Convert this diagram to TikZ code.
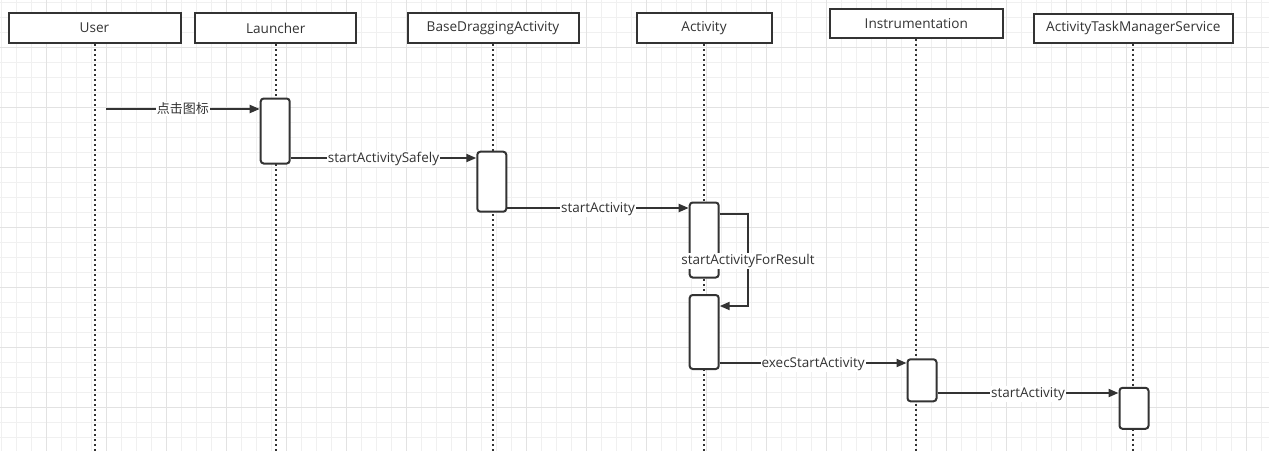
\documentclass[tikz,border=0pt]{standalone}
\usepackage{fontspec}
\setmainfont{Open Sans}
\newfontfamily\cjkfont{Noto Sans CJK SC}
\usetikzlibrary{arrows.meta}

\definecolor{inkgray}{HTML}{333333}
\definecolor{gridminor}{HTML}{F0F0F0}
\definecolor{gridmajor}{HTML}{E2E2E2}

\tikzset{
	header/.style={draw=inkgray, line width=2pt, fill=white, minimum height=30pt,
		inner sep=0pt, text=inkgray, font=\fontsize{13.6}{15}\selectfont},
	actbox/.style={draw=inkgray, line width=2pt, fill=white, rounded corners=3pt,
		minimum width=29pt, inner sep=0pt},
	lifeline/.style={draw=inkgray, line width=2pt, dash pattern=on 2pt off 3pt},
	message/.style={draw=inkgray, line width=2pt, -{Triangle[length=10pt,width=8pt]}},
	msglabel/.style={fill=white, inner sep=1pt, text=inkgray, font=\fontsize{13.5}{15}\selectfont},
}

\begin{document}
\begin{tikzpicture}[x=1pt,y=-1pt]
				\useasboundingbox (0,0) rectangle (1269,451);

				% grid
				\foreach \k in {0,...,84}
					\draw[gridminor, line width=1pt] (1.5+15*\k,0) -- ++(0,451);
				\foreach \k in {0,...,29}
					\draw[gridminor, line width=1pt] (0,2+15*\k) -- ++(1269,0);
				\foreach \k in {0,...,20}
					\draw[gridmajor, line width=1pt] (46.5+60*\k,0) -- ++(0,451);
				\foreach \k in {0,...,6}
					\draw[gridmajor, line width=1pt] (0,47+60*\k) -- ++(1269,0);

				% heads
				\node[header, minimum width=172pt] (user) at (94.5,28) {User};
				\node[header, minimum width=161pt] (launcher) at (275.7,28) {Launcher};
				\node[header, minimum width=171pt] (bda) at (493,28) {BaseDraggingActivity};
				\node[header, minimum width=135pt] (activity) at (704,28) {Activity};
				\node[header, minimum width=173pt, minimum height=29pt] (instr) at (916.3,23.9) {Instrumentation};
				\node[header, minimum width=199pt, minimum height=29pt] (atms) at (1133.3,28.2) {ActivityTaskManagerService};

				\coordinate (bottom) at (0,451);
				\foreach \h in {user,launcher,bda,activity,instr,atms}
					\draw[lifeline] (\h.south) -- (\h.south |- bottom);

				% activations
				\node[actbox, minimum height=65pt] (la) at (275.2,131) {};
				\node[actbox, minimum height=60pt] (ba) at (491.8,181.7) {};
				\node[actbox, minimum height=75pt] (aa1) at (704.2,240) {};
				\node[actbox, minimum height=74pt] (aa2) at (704.2,332) {};
				\node[actbox, minimum height=42pt] (ia) at (922,380.3) {};
				\node[actbox, minimum height=41pt] (sa) at (1134,408.3) {};

				% messages
				\coordinate (tap) at (106,109);
				\draw[message] (tap) -- (la.west |- tap)
					node[msglabel, midway, font=\cjkfont\fontsize{13}{15}\selectfont] {点击图标};
				\draw[message] (la.east |- 0,158) -- (ba.west |- 0,158)
					node[msglabel, midway, yshift=-1pt] {startActivitySafely};
				\draw[message] (ba.east |- 0,208) -- (aa1.west |- 0,208)
					node[msglabel, midway, yshift=-1pt] {startActivity};

				\coordinate (loop) at (748,260);
				\draw[message] (aa1.east |- 0,214) -| (loop) |- (aa2.east |- 0,306);
				\node[msglabel, yshift=-1pt] (selfcall) at (loop) {startActivityForResult};

				\draw[message] (aa2.east |- 0,363) -- (ia.west |- 0,363)
					node[msglabel, midway, yshift=-1pt] {execStartActivity};
				\draw[message] (ia.east |- 0,393) -- (sa.west |- 0,393)
					node[msglabel, midway, yshift=-1pt] {startActivity};

\end{tikzpicture}
\end{document}
